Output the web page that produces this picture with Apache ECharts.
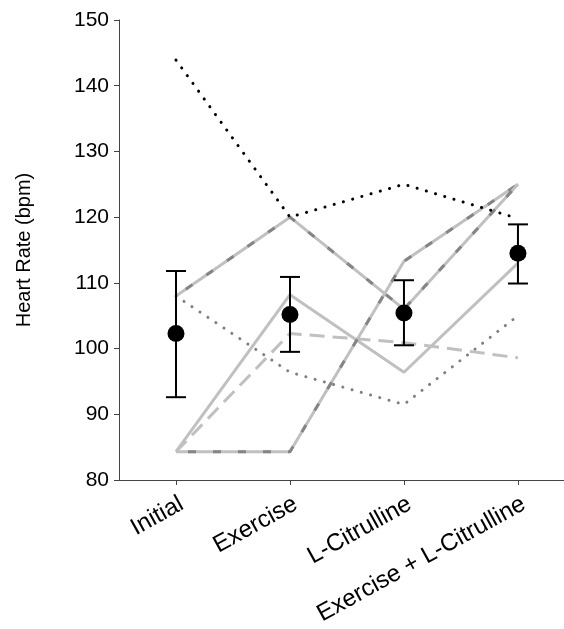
<!DOCTYPE html>
<html>
<head>
<meta charset="utf-8">
<script src="https://cdn.jsdelivr.net/npm/echarts@6/dist/echarts.min.js"></script>
<style>html,body{margin:0;padding:0;background:#fff}#c{width:564px;height:629px}</style>
</head>
<body>
<div id="c"></div>
<script>
var categories = ['Initial', 'Exercise', 'L-Citrulline', 'Exercise + L-Citrulline'];
var yTicks = [80, 90, 100, 110, 120, 130, 140, 150];
var subjectA = [108, 120, 106, 125];
var subjectB = [84.3, 84.3, 113.3, 125];
var subjectC = [84.3, 108.2, 96.4, 113];
var subjectD = [84.3, 102.3, 100.9, 98.6];
var subjectE = [108, 96.4, 91.5, 105];
var subjectF = [143.9, 120, 125, 119.8];
var meanHR = [102.3, 105.2, 105.4, 114.5];
var errLow = [92.6, 99.5, 100.5, 109.9];
var errHigh = [111.8, 110.9, 110.4, 118.9];

var LIGHT = '#c0c0c0', DARK = '#858585', FONT = 'Liberation Sans, Arial, sans-serif';
var catIdx = categories.map(function (c, i) { return i; });
function pairs(arr) { return arr.map(function (v, i) { return [i, v]; }); }
function lineSeries(data, style, z) {
  return { type: 'line', data: pairs(data), symbol: 'none', silent: true, z: z || 2,
           lineStyle: style, animation: false };
}
var errData = categories.map(function (c, i) { return [i, errLow[i], errHigh[i]]; });

var chart = echarts.init(document.getElementById('c'), null, { renderer: 'canvas' });
chart.setOption({
  animation: false,
  grid: { left: 119, top: 20, right: 0, bottom: 149, containLabel: false },
  xAxis: {
    type: 'value', min: -0.5, max: 3.404,
    axisLine: { show: true, onZero: false, lineStyle: { color: '#444', width: 1 } },
    axisTick: { show: true, customValues: catIdx, length: 5, lineStyle: { color: '#444' } },
    axisLabel: { customValues: catIdx, rotate: 29, margin: 12, color: '#000', fontSize: 24,
                 fontFamily: FONT, align: 'right', verticalAlign: 'top',
                 formatter: function (v) { return categories[Math.round(v)] || ''; } },
    splitLine: { show: false }
  },
  yAxis: {
    type: 'value', min: yTicks[0], max: yTicks[yTicks.length - 1], interval: 10,
    name: 'Heart Rate (bpm)', nameLocation: 'middle', nameGap: 85, nameRotate: 90,
    nameTextStyle: { color: '#000', fontSize: 20, fontFamily: FONT },
    axisLine: { show: true, onZero: false, lineStyle: { color: '#444', width: 1 } },
    axisTick: { show: true, length: 5, lineStyle: { color: '#444' } },
    axisLabel: { color: '#000', fontSize: 21, margin: 10, fontFamily: FONT },
    splitLine: { show: false }
  },
  series: [
    lineSeries(subjectF, { color: '#000', width: 3, type: [0.1, 9.5], cap: 'round' }, 3),
    lineSeries(subjectE, { color: '#808080', width: 3, type: [0.1, 9.5], cap: 'round' }, 3),
    lineSeries(subjectD, { color: LIGHT, width: 3, type: [15, 8] }, 2),
    lineSeries(subjectC, { color: LIGHT, width: 3, type: 'solid' }, 2),
    lineSeries(subjectB, { color: LIGHT, width: 3, type: 'solid' }, 2),
    lineSeries(subjectB, { color: DARK, width: 3, type: [8, 17], dashOffset: -12 }, 2),
    lineSeries(subjectA, { color: LIGHT, width: 3, type: 'solid' }, 2),
    lineSeries(subjectA, { color: DARK, width: 3, type: [8, 17], dashOffset: -12 }, 2),
    {
      type: 'custom', z: 5, silent: true, data: errData,
      renderItem: function (params, api) {
        var lo = api.coord([api.value(0), api.value(1)]);
        var hi = api.coord([api.value(0), api.value(2)]);
        var w = 10;
        var st = { stroke: '#000', lineWidth: 2, fill: null };
        return { type: 'group', children: [
          { type: 'line', shape: { x1: lo[0], y1: lo[1], x2: hi[0], y2: hi[1] }, style: st },
          { type: 'line', shape: { x1: lo[0] - w, y1: lo[1], x2: lo[0] + w, y2: lo[1] }, style: st },
          { type: 'line', shape: { x1: hi[0] - w, y1: hi[1], x2: hi[0] + w, y2: hi[1] }, style: st }
        ] };
      }
    },
    { type: 'scatter', data: pairs(meanHR), symbol: 'circle', symbolSize: 17, z: 6, silent: true,
      itemStyle: { color: '#000', opacity: 1 } }
  ]
});
</script>
</body>
</html>
